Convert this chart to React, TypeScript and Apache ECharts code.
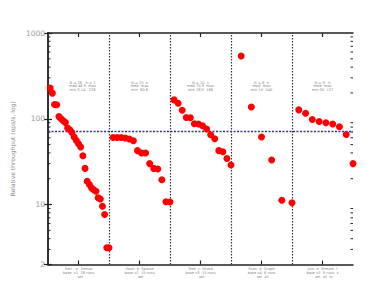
import React, { useEffect, useRef } from "react";
import * as echarts from "echarts";

// ---- data ----
const panelLabels = [
  "Sort   a   Dense\nbase  v1  28 runs\n   set",
  "Hash  b  Sparse\nbase v2  15 runs\n  set",
  "Tree  c  Mixed\nbase v3  15 runs\n  set",
  "Scan  d  Graph\nbase v4  6 runs\n  set  all",
  "Join  e  Stream  f\nbase v5  9 runs  x\n  set  all  io",
];
const panelNotes = [
  "N = 28   n = 1\nmed 46.9  max\nmin 3.14   228",
  "N = 15  n\nmed  max\nmin  60.6",
  "N = 15  n\nmed 75.9  max\nmin 28.9  166",
  "N = 6  n\nmed  max\nmin 10  540",
  "N = 9   n\nmed  max\nmin 30  127",
];
const panel1 = [228, 199, 147, 146, 106, 100, 94.8, 90.6, 78.0, 74.5, 69.3, 61.3, 55.9, 51.2, 46.9, 37.1, 26.4, 18.7, 17.1, 15.6, 14.9, 14.3, 12.0, 11.6, 9.55, 7.65, 3.14, 3.14];
const panel2 = [60.6, 60.6, 60.6, 59.7, 58.1, 55.5, 42.5, 39.9, 39.9, 30.0, 26.4, 26.0, 19.5, 10.8, 10.7];
const panel3 = [166, 152, 126, 103.5, 102.7, 87.5, 86.8, 82.9, 75.9, 65.1, 58.5, 42.5, 41.3, 34.5, 28.9];
const panel4 = [540, 137, 61.3, 33.1, 11.2, 10.5];
const panel5 = [127, 116, 98.1, 93.0, 89.8, 86.8, 80.7, 65.7, 30.0];
const panels = [panel1, panel2, panel3, panel4, panel5];
const threshold = 72.5;
const yMin = 2;
const yMax = 1000;
const minorTicks = [3, 4, 5, 6, 7, 8, 9, 20, 30, 40, 50, 60, 70, 80, 90, 200, 300, 400, 500, 600, 700, 800, 900];
const panelCenters = [0.5, 1.5, 2.5, 3.5, 4.5];
const panelBounds = [1, 2, 3, 4];

export default function App() {
  const ref = useRef<HTMLDivElement>(null);
  useEffect(() => {
    if (!ref.current) return;
    const chart = echarts.init(ref.current, null, { renderer: "svg" });
    const points: number[][] = [];
    panels.forEach((arr, k) => {
      arr.forEach((v, i) => points.push([k + (i + 1) / arr.length, v]));
    });
    const gridLeft = 48, gridTop = 33, gridW = 305;
    const axisColor = "#222";
    const xBase = {
      type: "value" as const,
      min: 0,
      max: 5,
      splitLine: { show: false },
      axisLine: { show: true, lineStyle: { color: axisColor, width: 1.5 } },
      axisTick: { show: true, inside: true, length: 4, customValues: panelCenters, lineStyle: { color: axisColor, width: 1.2 } },
    };
    const yBase = {
      type: "log" as const,
      logBase: 10,
      min: yMin,
      max: yMax,
      splitLine: { show: false },
      axisLine: { show: true, lineStyle: { color: "#333", width: 2 } },
      axisTick: { show: true, inside: true, length: 4, lineStyle: { color: axisColor, width: 1.2 } },
    };
    chart.setOption({
      animation: false,
      grid: { left: gridLeft, top: gridTop, width: gridW, height: 231.5 },
      xAxis: [
        {
          ...xBase,
          position: "bottom",
          axisLabel: {
            show: true,
            customValues: panelCenters,
            formatter: (v: number) => panelLabels[Math.floor(v)],
            fontSize: 3.6,
            lineHeight: 3.6,
            color: "#888",
            margin: 3,
            fontFamily: "DejaVu Sans",
          },
        },
        { ...xBase, position: "top", axisLabel: { show: false } },
      ],
      yAxis: [
        {
          ...yBase,
          position: "left",
          name: "Relative throughput (ops/s, log)",
          nameLocation: "middle",
          nameGap: 31,
          nameTextStyle: { fontSize: 6, color: "#888", fontFamily: "DejaVu Sans" },
          axisLabel: {
            show: true,
            fontSize: 7.5,
            color: "#999",
            margin: 3,
            fontFamily: "DejaVu Sans",
            formatter: (v: number) => String(Math.round(v)),
          },
        },
        { ...yBase, position: "right", axisLabel: { show: false } },
      ],
      graphic: panelNotes.map((t, k) => ({
        type: "text",
        x: gridLeft + (gridW / 5) * (k + 0.5) + (k === 0 ? 4 : 0),
        y: 81,
        style: {
          text: t,
          fontSize: 3.6,
          lineHeight: 3.6,
          fill: "#888",
          textAlign: "center",
          fontFamily: "DejaVu Sans",
        },
      })),
      series: [
        {
          type: "custom",
          xAxisIndex: 0,
          yAxisIndex: 0,
          silent: true,
          clip: false,
          data: minorTicks.map((v) => [0, v]),
          renderItem: (_p: any, api: any) => {
            const v = api.value(1);
            const l = api.coord([0, v]);
            const r = api.coord([5, v]);
            return {
              type: "group",
              children: [
                { type: "line", shape: { x1: l[0], y1: l[1], x2: l[0] + 2.5, y2: l[1] }, style: { stroke: axisColor, lineWidth: 1 } },
                { type: "line", shape: { x1: r[0] - 2.5, y1: r[1], x2: r[0], y2: r[1] }, style: { stroke: axisColor, lineWidth: 1 } },
              ],
            };
          },
        },
        {
          type: "scatter",
          xAxisIndex: 0,
          yAxisIndex: 0,
          data: points,
          symbolSize: 7,
          itemStyle: { color: "#ff0000", opacity: 1 },
          z: 5,
          markLine: {
            silent: true,
            symbol: "none",
            label: { show: false },
            z: 3,
            data: [
              ...panelBounds.map((b) => ({ xAxis: b, lineStyle: { color: "#333", width: 1.2, type: [1.5, 1.5] } })),
              { yAxis: threshold, lineStyle: { color: "#2a2ae0", width: 1.3, type: [2, 1.5] } },
            ],
          },
        },
      ],
    });
    return () => chart.dispose();
  }, []);
  return <div ref={ref} style={{ width: 374, height: 289, position: "absolute", left: 0, top: 0 }} />;
}
